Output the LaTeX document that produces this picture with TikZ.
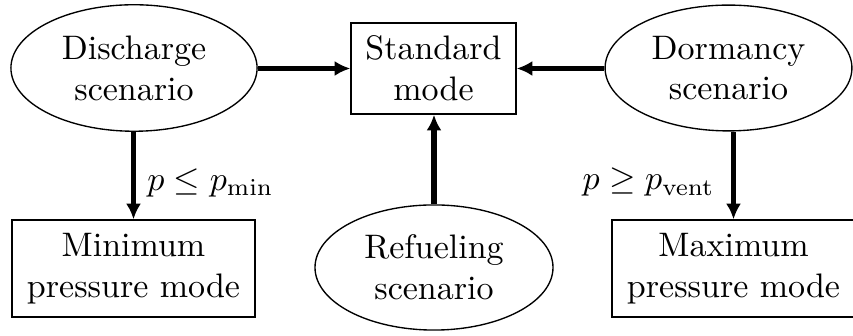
\documentclass[tikz,border=0pt]{standalone}
\usetikzlibrary{shapes.geometric,arrows.meta}
\begin{document}
\begin{tikzpicture}[x=0.29412pt,y=-0.29412pt,
  scen/.style={draw,ellipse,align=center,inner sep=0pt},
  modebox/.style={draw,rectangle,align=center,inner sep=0pt},
  flow/.style={line width=1.5pt,-{Latex[length=4.6pt,width=4.4pt]}},
  font=\fontsize{10pt}{12pt}\selectfont]
\useasboundingbox (0,0) rectangle (853,336);
\node[scen,minimum width=72.4pt,minimum height=37.2pt] (dis) at (134,68) {Discharge\\scenario};
\node[scen,minimum width=72.6pt,minimum height=37pt] (dor) at (728.5,68) {Dormancy\\scenario};
\node[scen,minimum width=70pt,minimum height=36.8pt] (ref) at (434,267.5) {Refueling\\scenario};
\node[modebox,minimum width=48.5pt,minimum height=26.8pt] (std) at (433.5,68.5) {Standard\\mode};
\node[modebox,minimum width=71.5pt,minimum height=28.5pt] (min) at (133.5,268.5) {Minimum\\pressure mode};
\node[modebox,minimum width=71.5pt,minimum height=28.5pt] (max) at (733.5,268.5) {Maximum\\pressure mode};
\draw[flow] (dis.east |- std.west) -- (std.west);
\draw[flow] (dor.west |- std.east) -- (std.east);
\draw[flow] (ref.north) -- (ref.north |- std.south);
\draw[flow] (dis.south -| min.north) -- node[pos=0.58,right] {$p\leq p_{\mathrm{min}}$} (min.north);
\draw[flow] (dor.south -| max.north) -- node[pos=0.58,left,xshift=-1.5pt] {$p\geq p_{\mathrm{vent}}$} (max.north);
\end{tikzpicture}
\end{document}
